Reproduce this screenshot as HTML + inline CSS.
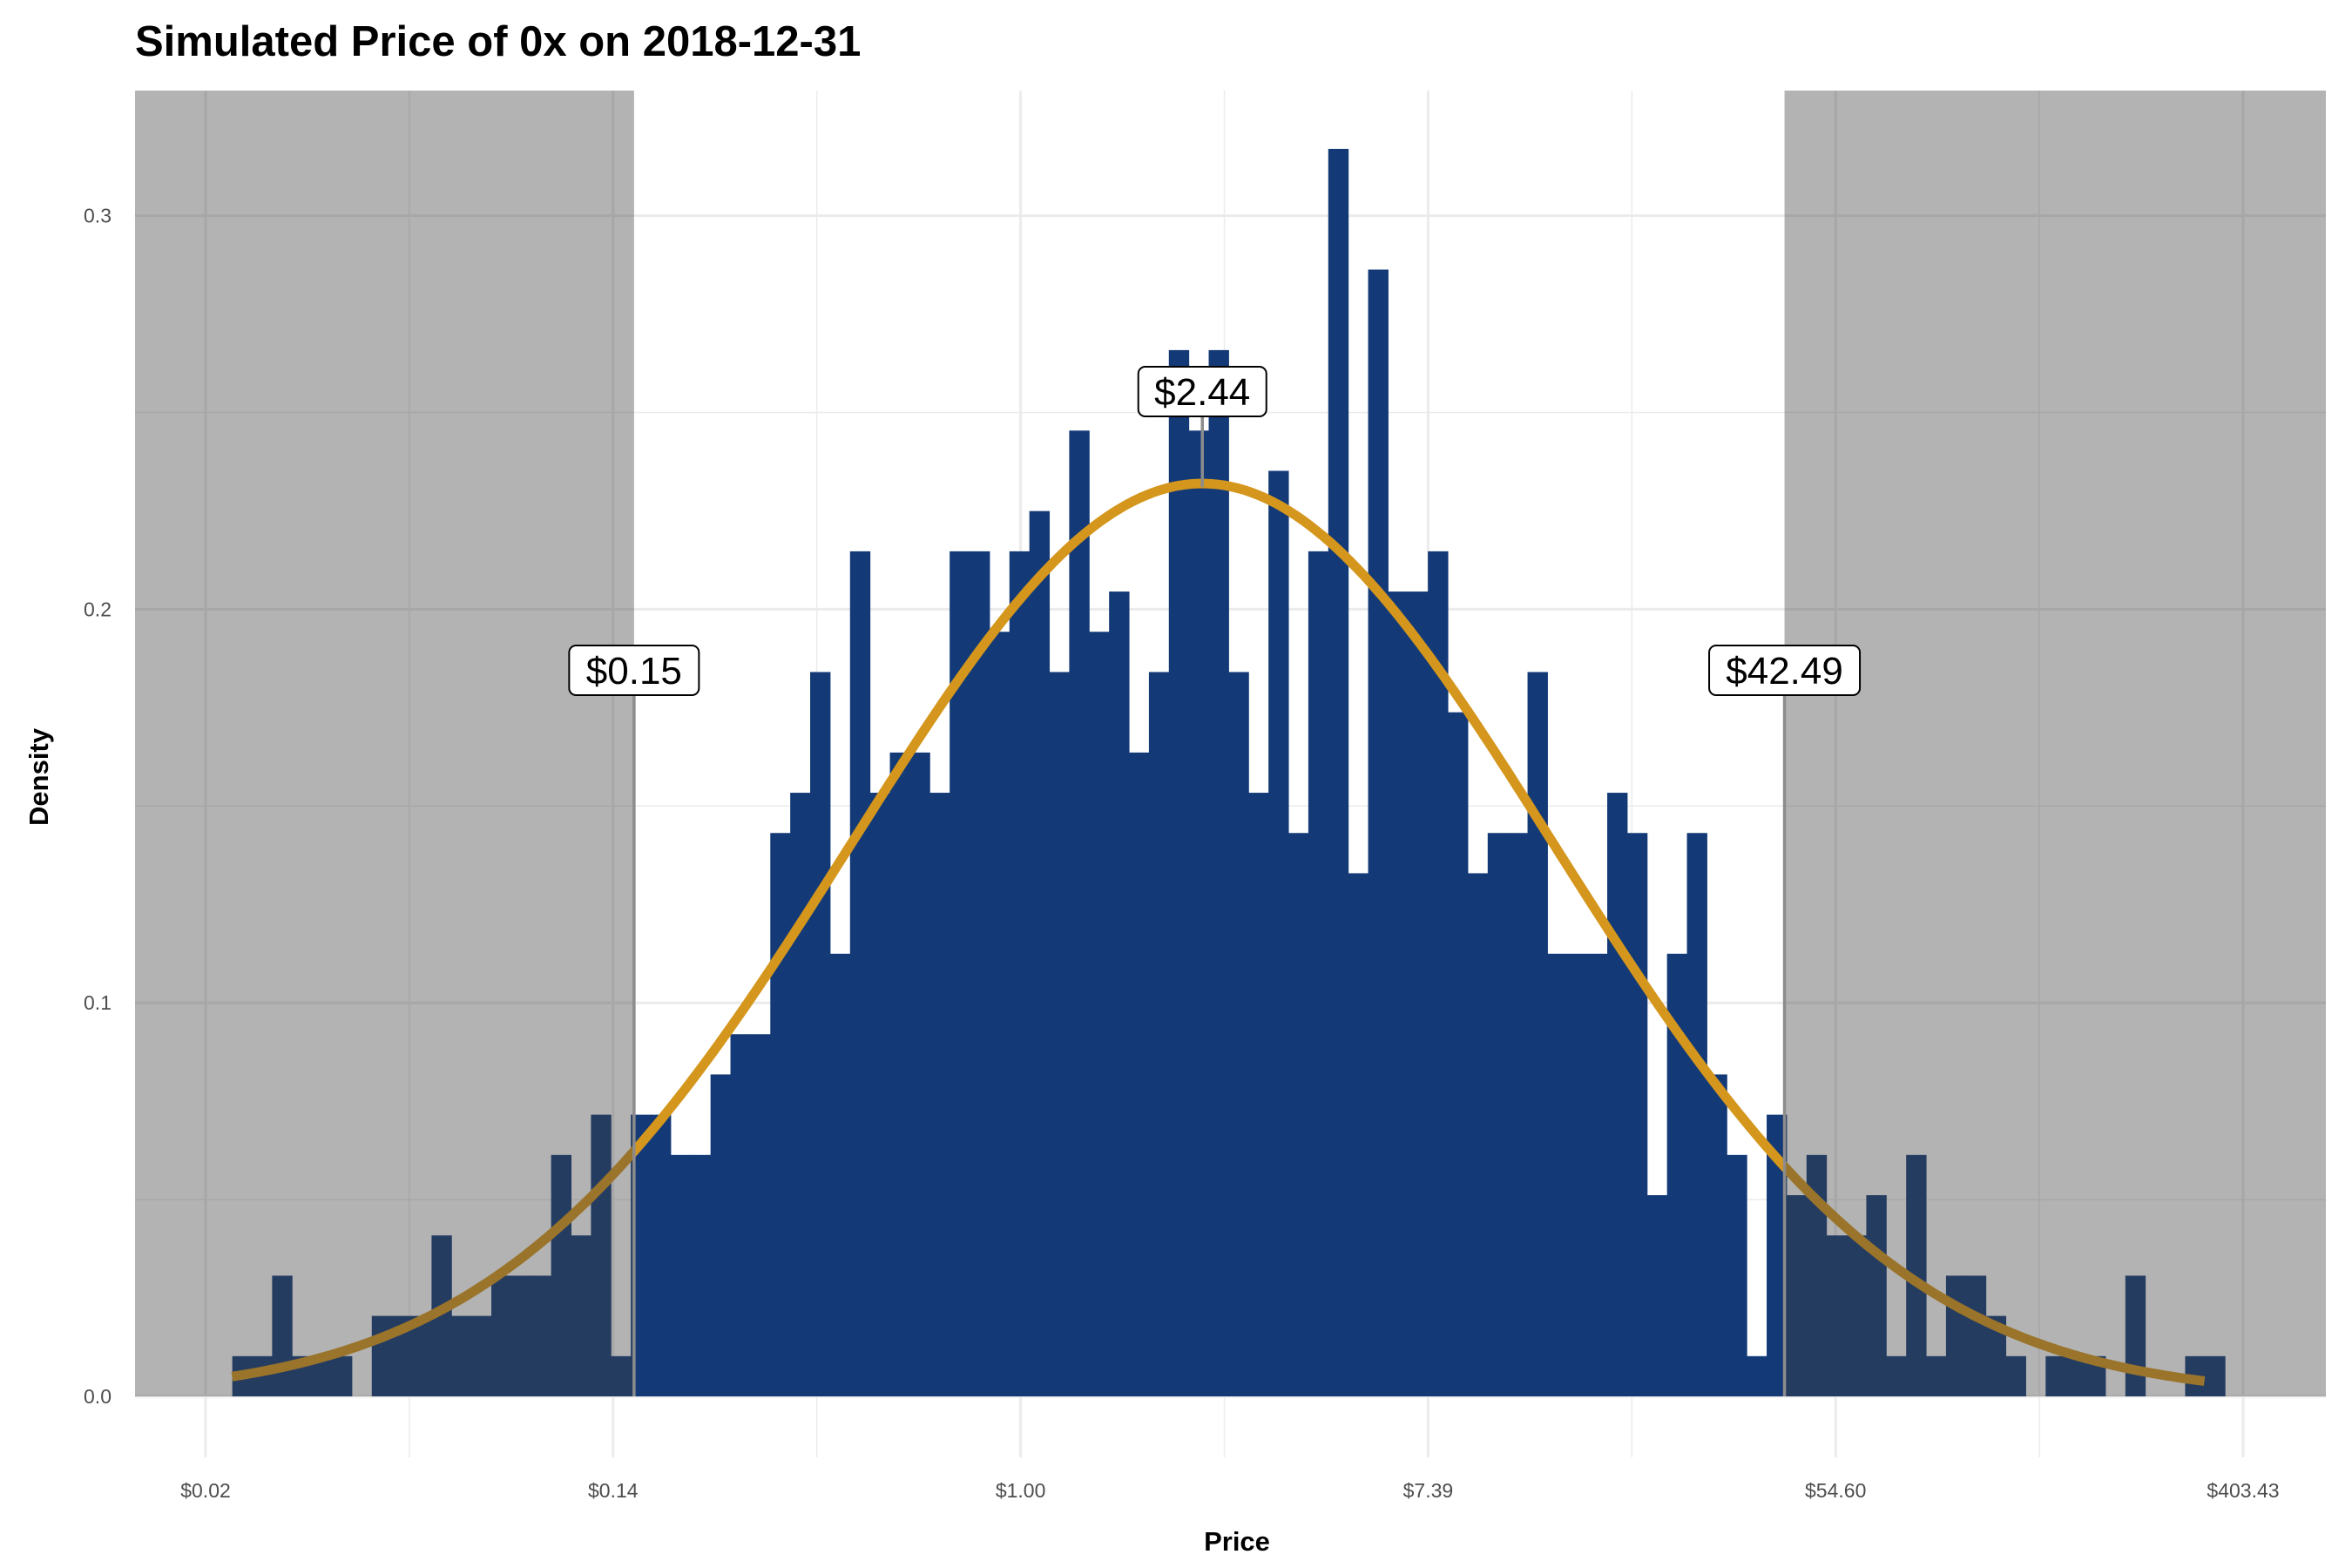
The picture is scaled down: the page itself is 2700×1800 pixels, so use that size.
<!DOCTYPE html>
<html><head><meta charset="utf-8">
<style>
html,body{margin:0;padding:0;background:#fff;}
svg{display:block;font-family:"Liberation Sans",Arial,sans-serif;}
</style></head>
<body>
<svg id="chart" width="2700" height="1800" viewBox="0 0 2700 1800" xmlns="http://www.w3.org/2000/svg">
<rect x="0" y="0" width="2700" height="1800" fill="#fff"/>
<text x="155" y="64" font-size="49" font-weight="bold" fill="#000">Simulated Price of 0x on 2018-12-31</text>
<g id="grid"></g>
<g id="bars"></g>
<g id="curve"></g>
<g id="shade"></g>
<g id="labels"></g>
<g id="axes"></g>
<text x="1420" y="1780" font-size="31" font-weight="bold" text-anchor="middle">Price</text>
<text x="0" y="0" font-size="31" font-weight="bold" text-anchor="middle" transform="translate(55,892) rotate(-90)">Density</text>
</svg>
<script>
// ---- data ----
const binStartLn = -3.869;
const binWidthLn = 0.0978;
const sampleSize = 1000;
const binCounts = [1,1,3,1,1,1,0,2,2,2,4,2,2,3,3,3,6,4,7,1,
  7,7,6,6,8,9,9,14,15,18,11,21,15,16,16,15,21,21,19,21,
  22,18,24,19,20,16,18,26,24,26,18,15,23,14,21,31,13,28,20,20,
  21,17,13,14,14,18,11,11,11,15,14,5,11,14,8,6,1,7,5,6,
  4,4,5,1,6,1,3,3,2,1,0,1,1,1,0,3,0,0,1,1];
const curveMeanLn = 0.892;
const curveSdLn = 1.72;
const curveRangeLn = [-3.87, 5.81];
const quantileValues = [0.15, 2.44, 42.49];
const quantileLabels = ["$0.15", "$2.44", "$42.49"];
const xTickLn = [-4, -2, 0, 2, 4, 6];
const xTickLabels = ["$0.02", "$0.14", "$1.00", "$7.39", "$54.60", "$403.43"];
const yTicks = [0, 0.1, 0.2, 0.3];
const yTickLabels = ["0.0", "0.1", "0.2", "0.3"];

// ---- scales ----
const PL = 155, PR = 2670, PT = 104, PB = 1673;
const X = l => 1171.6 + 233.9 * l;
const Y = d => 1603 - d * 4518;
const NS = "http://www.w3.org/2000/svg";
function mk(tag, attrs, parent) {
  const e = document.createElementNS(NS, tag);
  for (const k in attrs) e.setAttribute(k, attrs[k]);
  parent.appendChild(e);
  return e;
}
const grid = document.getElementById('grid');
for (let d = 0.05; d < 0.33; d += 0.1) {
  const l = mk('line', {x1: PL, x2: PR, y1: Y(d), y2: Y(d), stroke: '#ebebeb', 'stroke-width': 1.5}, grid);
  
  
}
for (let i = 0; i < xTickLn.length - 1; i++) {
  const xm = X((xTickLn[i] + xTickLn[i + 1]) / 2);
  const l = mk('line', {x1: xm, x2: xm, y1: PT, y2: PB, stroke: '#ebebeb', 'stroke-width': 1.5}, grid);
  
  
}
yTicks.forEach(d => {
  const l = mk('line', {x1: PL, x2: PR, y1: Y(d), y2: Y(d), stroke: '#ebebeb', 'stroke-width': 3}, grid);
  
  
});
xTickLn.forEach(t => {
  const l = mk('line', {x1: X(t), x2: X(t), y1: PT, y2: PB, stroke: '#ebebeb', 'stroke-width': 3}, grid);
  
  
});

// ---- bars ----
const bars = document.getElementById('bars');
const unit = 1 / (sampleSize * binWidthLn);
binCounts.forEach((c, i) => {
  if (c <= 0) return;
  const x0 = X(binStartLn + i * binWidthLn), x1 = X(binStartLn + (i + 1) * binWidthLn);
  const r = mk('rect', {x: x0, y: Y(c * unit), width: x1 - x0 + 0.5, height: Y(0) - Y(c * unit), fill: '#133a77'}, bars);
  
  
});

// ---- curve ----
const curve = document.getElementById('curve');
let pts = [];
for (let k = 0; k <= 300; k++) {
  const l = curveRangeLn[0] + (curveRangeLn[1] - curveRangeLn[0]) * k / 300;
  const d = Math.exp(-0.5 * Math.pow((l - curveMeanLn) / curveSdLn, 2)) / (curveSdLn * Math.sqrt(2 * Math.PI));
  pts.push(X(l).toFixed(1) + ',' + Y(d).toFixed(1));
}
const pl = mk('polyline', {points: pts.join(' '), fill: 'none', stroke: '#d4961c', 'stroke-width': 11, 'stroke-linecap': 'butt'}, curve);



// ---- quantile lines + shading ----
const shade = document.getElementById('shade');
const labels = document.getElementById('labels');
const qLo = X(Math.log(quantileValues[0])), qHi = X(Math.log(quantileValues[2]));
const s1 = mk('rect', {x: PL, y: PT, width: qLo - PL, height: Y(0) - PT, fill: 'rgb(64,64,64)', 'fill-opacity': 0.4}, shade);


const s2 = mk('rect', {x: qHi, y: PT, width: PR - qHi, height: Y(0) - PT, fill: 'rgb(64,64,64)', 'fill-opacity': 0.4}, shade);



const labelBoxY = [741, 421, 741];
const labelBoxW = [149, 147, 173];
quantileValues.forEach((v, i) => {
  const x = X(Math.log(v));
  let yEnd = Y(0);
  if (i === 1) {
    yEnd = Y(1 / (curveSdLn * Math.sqrt(2 * Math.PI))) + 4;
  }
  const ln = mk('line', {x1: x, x2: x, y1: labelBoxY[i] + 57, y2: yEnd, stroke: '#8c8c8c', 'stroke-width': 3.5}, labels);
  
  
  const bx = mk('rect', {x: x - labelBoxW[i] / 2, y: labelBoxY[i], width: labelBoxW[i], height: 57, rx: 8, fill: '#fff', stroke: '#000', 'stroke-width': 2}, labels);
  
  
  const t = mk('text', {x: x, y: labelBoxY[i] + 44, 'font-size': 44, 'text-anchor': 'middle', fill: '#000'}, labels);
  t.textContent = quantileLabels[i];
  
  
});

// ---- axes ----
const axes = document.getElementById('axes');
yTicks.forEach((d, i) => {
  const t = mk('text', {x: 128, y: Y(d) + 8, 'font-size': 23, 'text-anchor': 'end', fill: '#4d4d4d'}, axes);
  t.textContent = yTickLabels[i];
  
  
});
xTickLn.forEach((l, i) => {
  const t = mk('text', {x: X(l), y: 1719, 'font-size': 23, 'text-anchor': 'middle', fill: '#4d4d4d'}, axes);
  t.textContent = xTickLabels[i];
  
  
});
</script>
</body></html>
